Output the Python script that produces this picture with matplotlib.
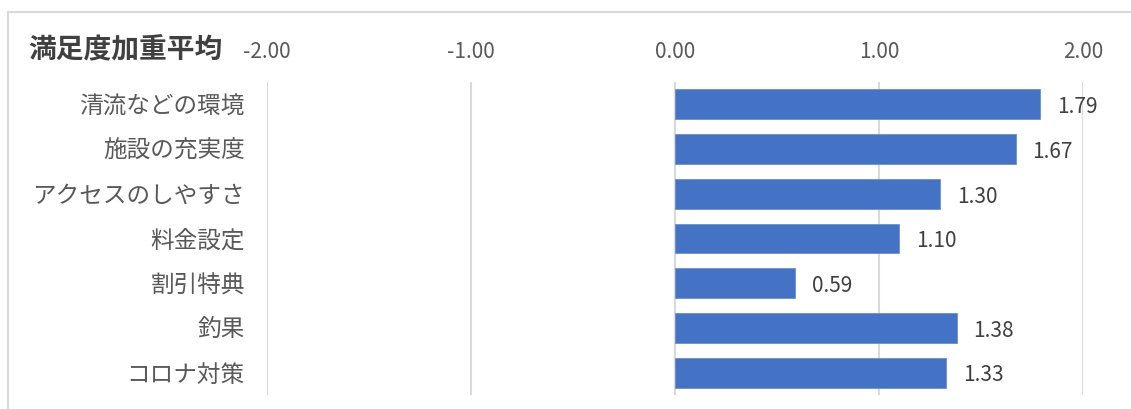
import matplotlib
matplotlib.use("Agg")
import matplotlib.pyplot as plt
from matplotlib.lines import Line2D

plt.rcParams['font.family'] = ['Noto Sans CJK JP', 'DejaVu Sans']

categories = ["清流などの環境", "施設の充実度", "アクセスのしやすさ", "料金設定", "割引特典", "釣果", "コロナ対策"]
values = [1.79, 1.67, 1.30, 1.10, 0.59, 1.38, 1.33]
xticks = [-2.0, -1.0, 0.0, 1.0, 2.0]
title = "満足度加重平均"

W, H = 1131, 409
fig = plt.figure(figsize=(W / 100, H / 100), dpi=100)
ax = fig.add_axes([267 / W, 1 - 395 / H, 816 / W, 313 / H])

y = list(range(len(categories)))
ax.barh(y, values, height=0.67, color="#4472C4", edgecolor="#6A8FD4", linewidth=0.6, zorder=3)
ax.set_xlim(-2, 2)
ax.set_ylim(len(categories) - 0.5, -0.5)
ax.set_yticks(y)
ax.set_yticklabels(categories, fontsize=17, color="#595959")
ax.set_xticks(xticks)
ax.set_xticklabels([f"{t:.2f}" for t in xticks], fontsize=15, color="#595959")
ax.xaxis.tick_top()
ax.tick_params(axis='x', length=0, pad=13.5)
ax.tick_params(axis='y', length=0, pad=16)
ax.grid(axis='x', color="#D9D9D9", linewidth=1.5, zorder=0)
for s in ax.spines.values():
    s.set_visible(False)

for yi, v in zip(y, values):
    ax.annotate(f"{v:.2f}", xy=(v, yi), xytext=(12, -2), textcoords='offset points',
                va='center', ha='left', fontsize=15, color="#404040")

fig.text(28 / W, 1 - 50 / H, title, fontsize=20, fontweight='bold', color="#404040",
         ha='left', va='center')

# chart border
fig.add_artist(Line2D([8 / W, 8 / W], [0, 1 - 12 / H], color="#D9D9D9", linewidth=1.5, transform=fig.transFigure))
fig.add_artist(Line2D([8 / W, 1], [1 - 12 / H, 1 - 12 / H], color="#D9D9D9", linewidth=1.5, transform=fig.transFigure))

fig.savefig("out.png", dpi=100)
